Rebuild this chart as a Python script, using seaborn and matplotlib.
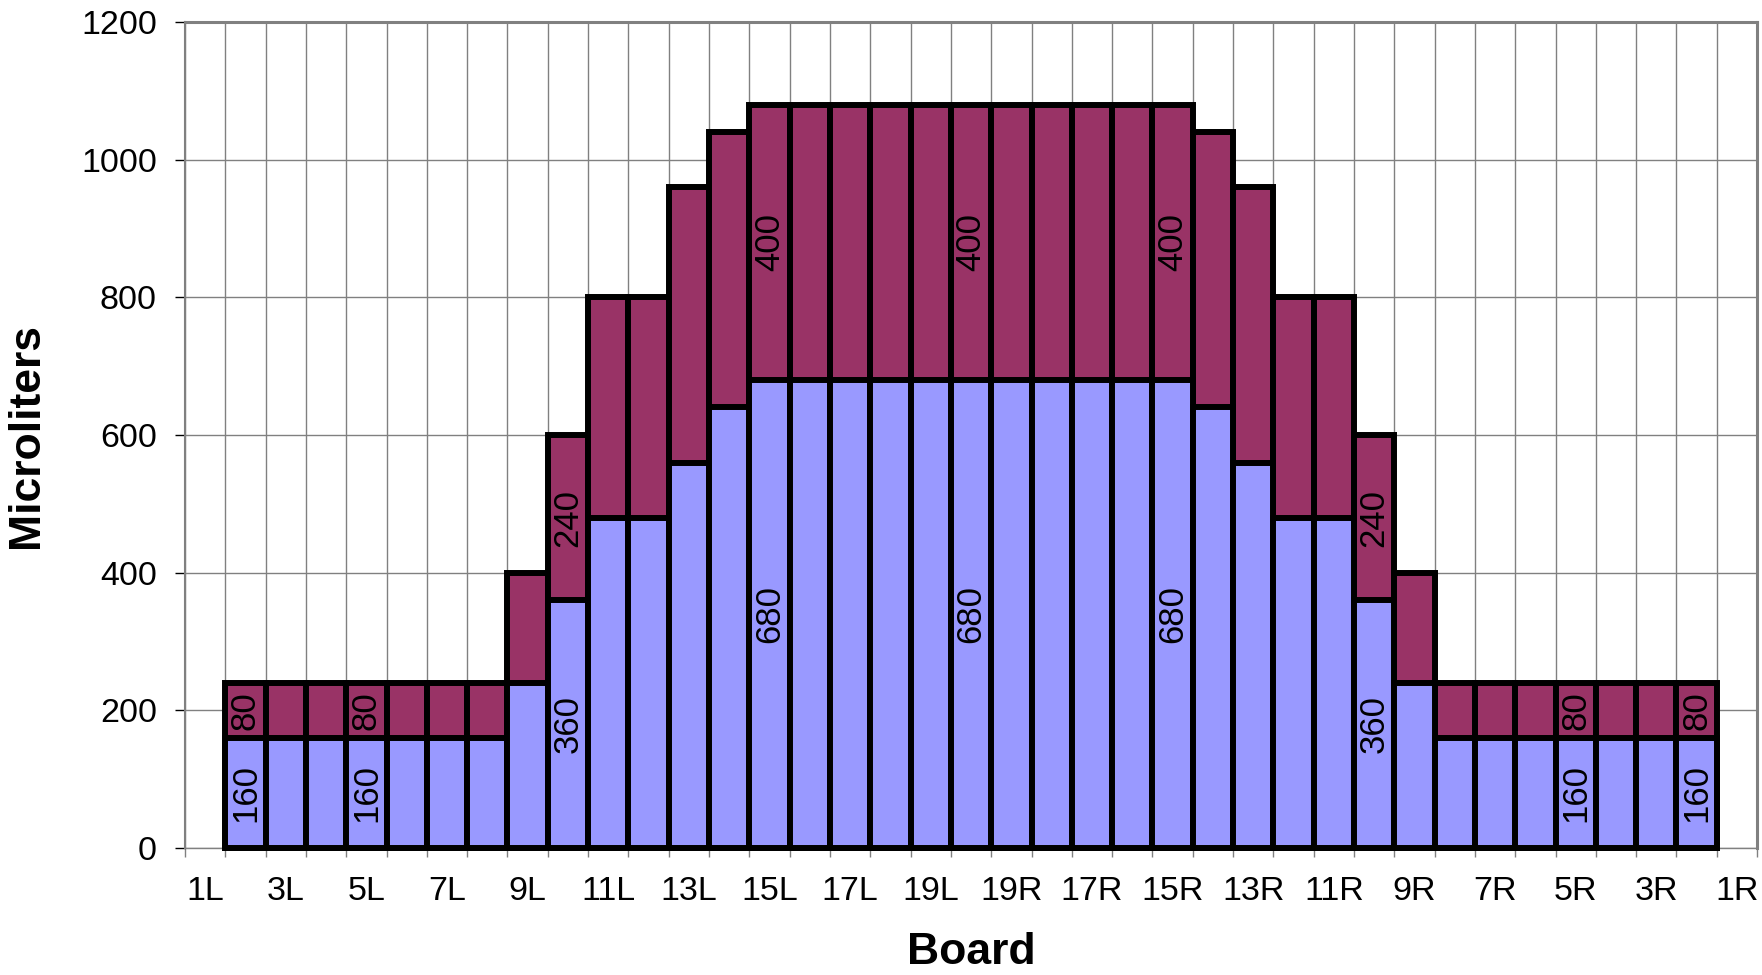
import numpy as np
import pandas as pd
import matplotlib
matplotlib.use('Agg')
import matplotlib.pyplot as plt
import seaborn as sns

# ── data ──────────────────────────────────────
boards_all = ['1L', '2L', '3L', '4L', '5L', '6L', '7L', '8L', '9L', '10L',
              '11L', '12L', '13L', '14L', '15L', '16L', '17L', '18L', '19L',
              '20',
              '19R', '18R', '17R', '16R', '15R', '14R', '13R', '12R', '11R',
              '10R', '9R', '8R', '7R', '6R', '5R', '4R', '3R', '2R', '1R']

# boards that carry bars (1L and 1R are empty)
bar_boards = boards_all[1:-1]

# lower (blue) part of each stack, 2L .. 2R
lower = [160, 160, 160, 160, 160, 160, 160, 240, 360, 480, 480, 560, 640,
         680, 680, 680, 680, 680, 680, 680, 680, 680, 680, 680,
         640, 560, 480, 480, 360, 240, 160, 160, 160, 160, 160, 160, 160]

# upper (purple) part of each stack, 2L .. 2R
upper = [80, 80, 80, 80, 80, 80, 80, 160, 240, 320, 320, 400, 400,
         400, 400, 400, 400, 400, 400, 400, 400, 400, 400, 400,
         400, 400, 320, 320, 240, 160, 80, 80, 80, 80, 80, 80, 80]

labelled = ['2L', '5L', '10L', '15L', '20', '15R', '10R', '5R', '2R']

df = pd.DataFrame({'board': bar_boards, 'lower': lower, 'upper': upper})
df['total'] = df['lower'] + df['upper']

BLUE = '#9999FF'
PURPLE = '#993366'
GRID = '#808080'

# ── style ─────────────────────────────────────
sns.set_theme(style='white')
plt.rcParams['font.family'] = ['Liberation Sans', 'DejaVu Sans']
plt.rcParams['text.color'] = 'black'

fig = plt.figure(figsize=(17.62, 9.75), dpi=100)
ax = fig.add_axes([0.105, 0.1303, 0.8922, 0.8471])

# total first (purple), then the lower part on top (blue) -> stacked look
bar_kw = dict(order=boards_all, saturation=1, width=1.0, edgecolor='black',
              linewidth=4.3, errorbar=None, ax=ax, clip_on=False)
sns.barplot(data=df, x='board', y='total', color=PURPLE, **bar_kw)
sns.barplot(data=df, x='board', y='lower', color=BLUE, **bar_kw)

# segment labels
pos = {b: i for i, b in enumerate(boards_all)}
for _, row in df[df['board'].isin(labelled)].iterrows():
    x = pos[row['board']]
    ax.text(x, row['lower'] / 2, f"{row['lower']}", rotation=90,
            ha='center', va='center', fontsize=25, color='black')
    ax.text(x, row['lower'] + row['upper'] / 2, f"{row['upper']}", rotation=90,
            ha='center', va='center', fontsize=25, color='black')

# ── axes ──────────────────────────────────────
n = len(boards_all)
ax.set_xlim(-0.5, n - 0.5)
ax.set_ylim(0, 1200)
ax.set_yticks(range(0, 1201, 200))
ax.set_xticks(range(n))
ax.set_xticklabels([b if i % 2 == 0 else '' for i, b in enumerate(boards_all)])
ax.set_xticks(np.arange(-0.5, n), minor=True)
ax.set_xlabel('')
ax.set_ylabel('')

ax.grid(False)
ax.yaxis.grid(True, which='major', color=GRID, linewidth=1.0)
ax.xaxis.grid(True, which='minor', color=GRID, linewidth=1.0)
ax.set_axisbelow(True)

ax.tick_params(axis='x', which='major', length=0, pad=20, labelsize=24.5,
               labelcolor='black', bottom=True)
ax.tick_params(axis='x', which='minor', length=6.5, width=1, color=GRID,
               direction='out', bottom=True)
ax.tick_params(axis='y', which='major', length=7.2, width=1, color='black',
               direction='out', pad=13, labelsize=24.5, labelcolor='black', left=True)

for side in ['top', 'right']:
    ax.spines[side].set_color(GRID)
    ax.spines[side].set_linewidth(2.2)
ax.spines['left'].set_color(GRID)
ax.spines['left'].set_linewidth(1.5)
ax.spines['bottom'].set_color(GRID)
ax.spines['bottom'].set_linewidth(1.0)
ax.spines['bottom'].set_zorder(0.5)

# axis titles
fig.text(27 / 1762, 0.5538, 'Microliters', rotation=90, ha='center', va='center',
         fontsize=32, fontweight='bold', color='black')
fig.text(971 / 1762, 2 / 975, 'Board', ha='center', va='bottom',
         fontsize=32, fontweight='bold', color='black')

fig.savefig('out.png', dpi=100, facecolor='white')
